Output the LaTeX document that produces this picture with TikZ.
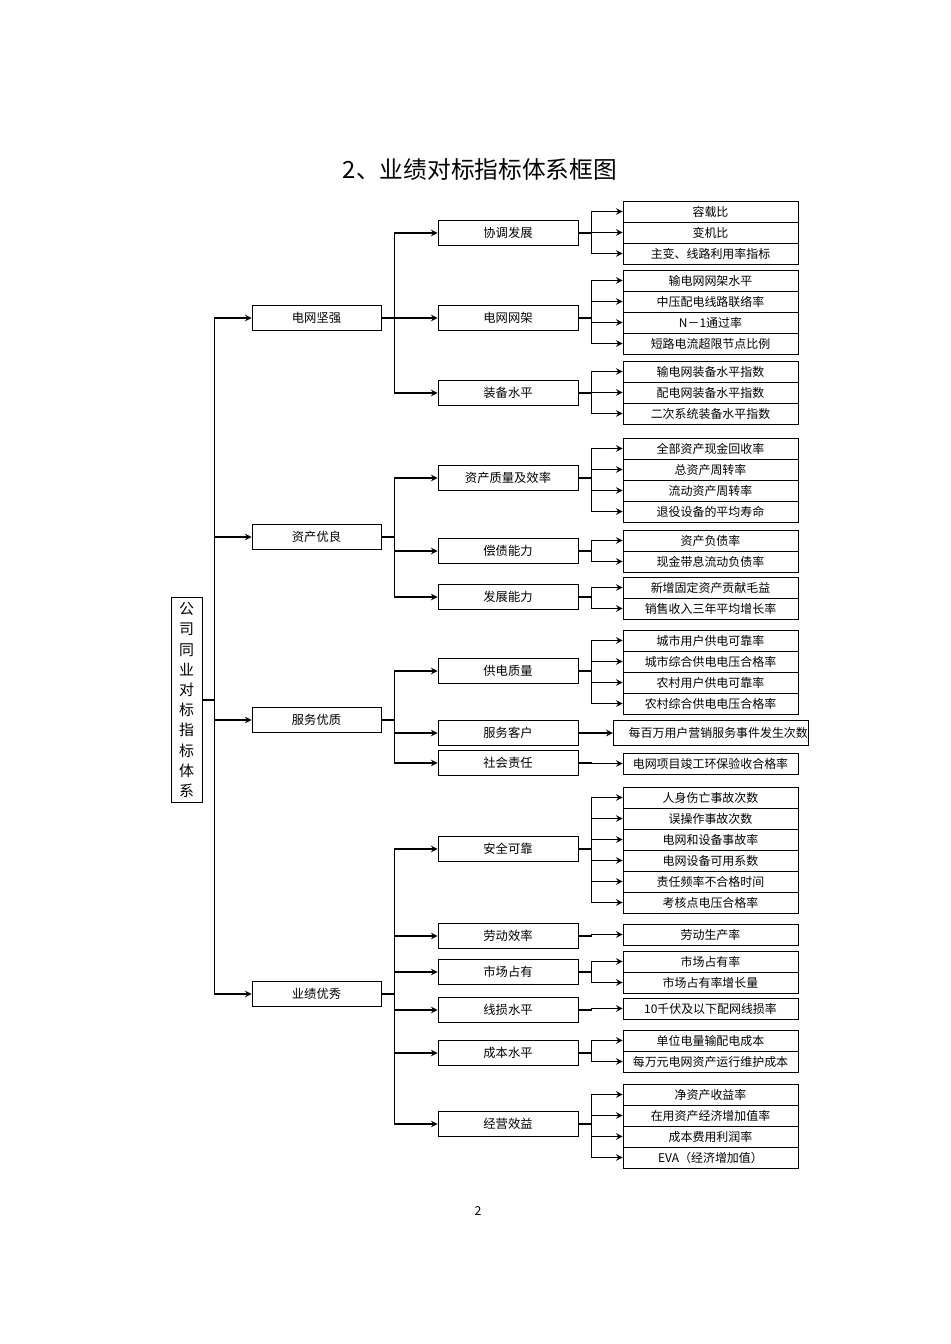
\documentclass[tikz,border=0pt]{standalone}
\usepackage{fontspec}
\setmainfont{Noto Sans CJK SC}
\usepackage{tikz}

% box styles and connector
\tikzset{
  root/.style={rectangle, draw=black, minimum width=0.62cm, minimum height=4.1cm, inner sep=0pt, align=center, font=\fontsize{8.5}{11.5}\selectfont},
  topic/.style={rectangle, draw=black, minimum width=2.58cm, minimum height=0.5cm, inner sep=0pt, font=\fontsize{7}{8}\selectfont},
  area/.style={rectangle, draw=black, minimum width=2.8cm, minimum height=0.5cm, inner sep=0pt, font=\fontsize{7}{8}\selectfont},
  leaf/.style={rectangle, draw=black, minimum width=3.5cm, minimum height=0.42cm, inner sep=0pt, font=\fontsize{6.8}{8}\selectfont},
  arrow/.style={thick, ->, >=stealth, line width=0.7pt}
}

% leaves of one area: parent, prefix, top of first box, texts
\newcommand\leafset[4]{%
  \foreach \t [count=\i] in {#4} {
    \node [leaf] (#2\i) at (710.5, #3+10.5+21*\i-21) {\t};
    \draw [arrow] (#1.east) -- ++(13,0) |- (#2\i.west);
  }%
}

\begin{document}
\begin{tikzpicture}[x=0.02cm, y=-0.02cm]
\useasboundingbox (0,0) rectangle (950,1344);

% Title and page number
\node (title) at (480,170) {\fontsize{13.5}{15}\selectfont 2、业绩对标指标体系框图};
\node (page) at (478,1211) {\fontsize{7}{8}\selectfont 2};

% Root
\node [root] (gs) at (186.5,700) {公\\司\\同\\业\\对\\标\\指\\标\\体\\系};

% Topics
\node [topic] (dw) at (316.5,318) {电网坚强};
\node [topic] (zc) at (316.5,537) {资产优良};
\node [topic] (fw) at (316.5,720) {服务优质};
\node [topic] (yj) at (316.5,994) {业绩优秀};
\foreach \n in {dw,zc,fw,yj}
  \draw [arrow] (gs.east) -- ++(12,0) |- (\n.west);

% Areas
\node [area] (xt) at (508,233) {协调发展};
\node [area] (wj) at (508,318) {电网网架};
\node [area] (zb) at (508,393) {装备水平};
\node [area] (zl) at (508,478) {资产质量及效率};
\node [area] (cz) at (508,551) {偿债能力};
\node [area] (fz) at (508,597) {发展能力};
\node [area] (gd) at (508,671) {供电质量};
\node [area] (kh) at (508,733) {服务客户};
\node [area] (sh) at (508,763) {社会责任};
\node [area] (aq) at (508,849) {安全可靠};
\node [area] (ld) at (508,936) {劳动效率};
\node [area] (sc) at (508,972) {市场占有};
\node [area] (xs) at (508,1010) {线损水平};
\node [area] (cb) at (508,1053) {成本水平};
\node [area] (jy) at (508,1124) {经营效益};
\foreach \n in {xt,wj,zb} \draw [arrow] (dw.east) -- ++(13,0) |- (\n.west);
\foreach \n in {zl,cz,fz} \draw [arrow] (zc.east) -- ++(13,0) |- (\n.west);
\foreach \n in {gd,kh,sh} \draw [arrow] (fw.east) -- ++(13,0) |- (\n.west);
\foreach \n in {aq,ld,sc,xs,cb,jy} \draw [arrow] (yj.east) -- ++(13,0) |- (\n.west);

% Leaves
\leafset{xt}{xta}{201}{容载比,变机比,主变、线路利用率指标}
\leafset{wj}{wja}{270}{输电网网架水平,中压配电线路联络率,N－1通过率,短路电流超限节点比例}
\leafset{zb}{zba}{361}{输电网装备水平指数,配电网装备水平指数,二次系统装备水平指数}
\leafset{zl}{zla}{438}{全部资产现金回收率,总资产周转率,流动资产周转率,退役设备的平均寿命}
\leafset{cz}{cza}{530}{资产负债率,现金带息流动负债率}
\leafset{fz}{fza}{577}{新增固定资产贡献毛益,销售收入三年平均增长率}
\leafset{gd}{gda}{630}{城市用户供电可靠率,城市综合供电电压合格率,农村用户供电可靠率,农村综合供电电压合格率}
\node [leaf, minimum height=0.5cm] (kha) at (710.5,733) {\hspace*{1.3em}每百万用户营销服务事件发生次数};
\draw [arrow] (kh) -- (kha);
\leafset{sh}{sha}{753}{电网项目竣工环保验收合格率}
\leafset{aq}{aqa}{787}{人身伤亡事故次数,误操作事故次数,电网和设备事故率,电网设备可用系数,责任频率不合格时间,考核点电压合格率}
\leafset{ld}{lda}{924}{劳动生产率}
\leafset{sc}{sca}{951}{市场占有率,市场占有率增长量}
\leafset{xs}{xsa}{998}{10千伏及以下配网线损率}
\leafset{cb}{cba}{1030}{单位电量输配电成本,每万元电网资产运行维护成本}
\leafset{jy}{jya}{1084}{净资产收益率,在用资产经济增加值率,成本费用利润率,EVA（经济增加值）}
\end{tikzpicture}
\end{document}
